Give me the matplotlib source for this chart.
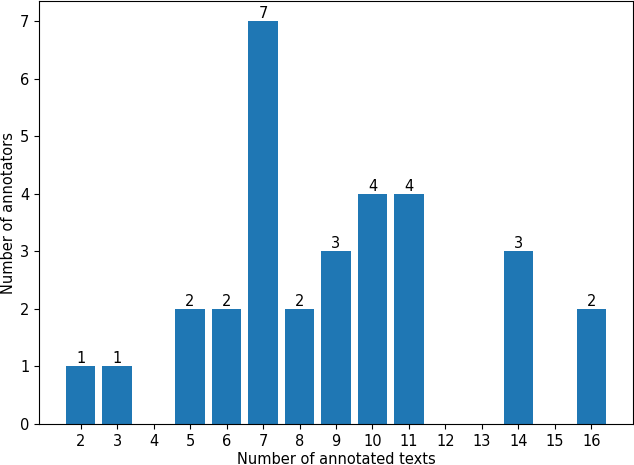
import matplotlib
matplotlib.use("Agg")
import matplotlib.pyplot as plt

# number of annotated texts -> number of annotators
texts = [2, 3, 4, 5, 6, 7, 8, 9, 10, 11, 12, 13, 14, 15, 16]
annotators = [1, 1, 0, 2, 2, 7, 2, 3, 4, 4, 0, 0, 3, 0, 2]

plt.rcParams["font.size"] = 10.5

fig = plt.figure(figsize=(6.34, 4.65), dpi=100)
ax = fig.add_axes([39 / 634, 41 / 465, 594 / 634, 423 / 465])

xs = [t for t, n in zip(texts, annotators) if n > 0]
ys = [n for n in annotators if n > 0]
bars = ax.bar(xs, ys, color="#1f77b4")
ax.bar_label(bars)
ax.set_xticks(texts)
ax.set_xlim(texts[0] - 0.4 - 0.74, texts[-1] + 0.4 + 0.74)
ax.set_xlabel("Number of annotated texts", labelpad=2)
ax.set_ylabel("Number of annotators", labelpad=3)

fig.savefig("out.png", dpi=100)
